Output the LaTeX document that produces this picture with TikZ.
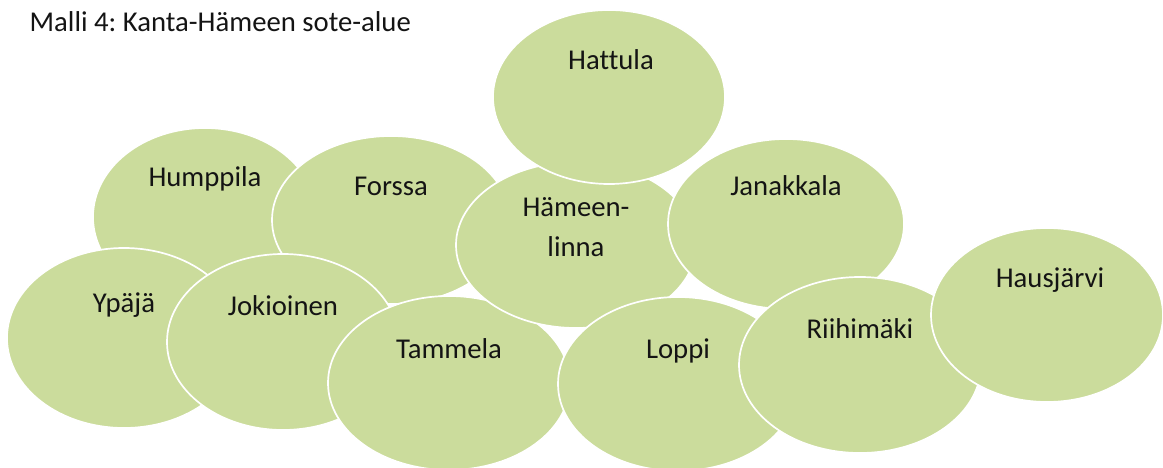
\documentclass[tikz,border=0pt]{standalone}
\usepackage{fontspec}
\setmainfont{Carlito}[Ligatures=NoCommon]
\frenchspacing
\usetikzlibrary{shapes.geometric}
\definecolor{areafill}{RGB}{203,220,156}
\definecolor{labeltext}{RGB}{20,20,20}
\tikzset{
  area/.style args={#1/#2}{ellipse, fill=areafill, draw=white, line width=1.7pt,
    inner sep=0pt, minimum width=#1pt, minimum height=#2pt},
  name label/.style={anchor=base, inner sep=0pt, text=labeltext, align=center,
    font=\fontsize{28.7}{40}\selectfont},
}
\begin{document}
\begin{tikzpicture}[x=1pt, y=-1pt]
\useasboundingbox (0,0) rectangle (1163,468);

% municipality areas, back to front
\node[area=224/178] (hum) at (205,217) {};
\node[area=238/168] (for) at (391,220) {};
\node[area=234/180] (ypa) at (124,338) {};
\node[area=232/176] (jok) at (283,342) {};
\node[area=242/174] (tam) at (449,383) {};
\node[area=240/166] (hml) at (576,245) {};
\node[area=232/174] (hat) at (609,97) {};
\node[area=236/170] (jan) at (786,224) {};
\node[area=240/174] (lop) at (678,384) {};
\node[area=242/176] (rii) at (860,365) {};
\node[area=232/174] (hau) at (1047,315) {};

% names (a two-line name is placed by the baseline of its last line)
\node[name label] (thum) at (205,186) {Humppila};
\node[name label] (tfor) at (391,196) {Forssa};
\node[name label] (typa) at (124,312) {Ypäjä};
\node[name label] (tjok) at (283,315) {Jokioinen};
\node[name label] (ttam) at (449,358) {Tammela};
\node[name label] (thml) at (576,256) {Hämeen-\\linna};
\node[name label] (that) at (611,69.5) {Hattula};
\node[name label] (tjan) at (786,196) {Janakkala};
\node[name label] (tlop) at (678,358) {Loppi};
\node[name label] (trii) at (860,338) {Riihimäki};
\node[name label] (thau) at (1050,287) {Hausjärvi};

% title
\node[anchor=base west, inner sep=0pt, text=labeltext,
      font=\fontsize{28.7}{34}\selectfont] (title) at (29.5,31.7)
  {Malli 4: Kanta-Hämeen sote-alue};
\end{tikzpicture}
\end{document}
